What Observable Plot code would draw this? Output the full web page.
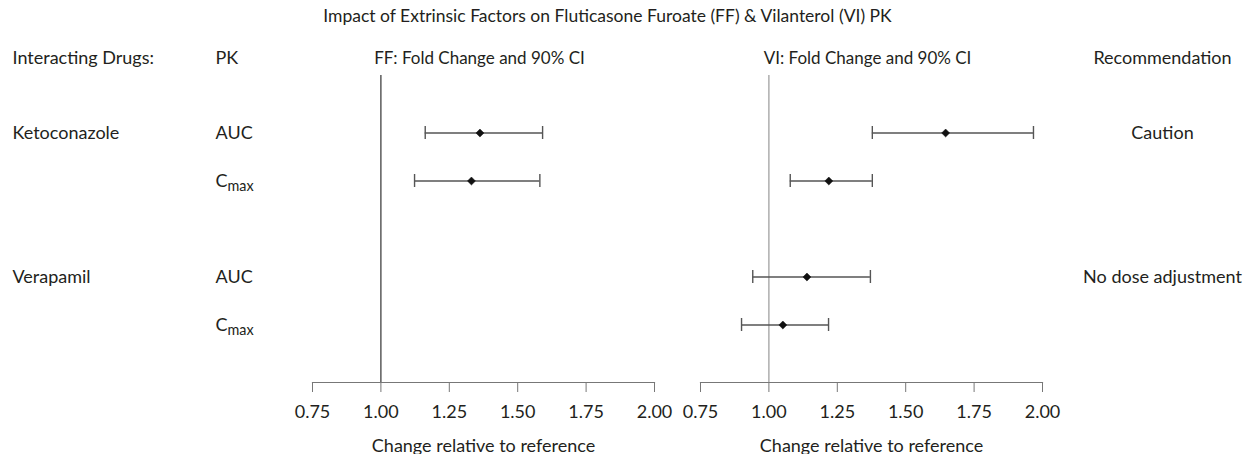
<!DOCTYPE html>
<html>
<head>
<meta charset="utf-8">
<script src="https://cdn.jsdelivr.net/npm/d3@7"></script>
<script src="https://cdn.jsdelivr.net/npm/@observablehq/plot@0.6"></script>
<style>
  html, body { margin: 0; padding: 0; background: #fff; }
  body { width: 1251px; height: 454px; overflow: hidden; font-family: Lato, "Noto Sans", sans-serif; color: #231f20; }
  #title { height: 30px; line-height: 32px; font-size: 17.5px; text-align: center; padding-right: 36px; box-sizing: border-box; width: 1251px; }
  #stage { position: relative; width: 1251px; height: 424px; }
  #stage > svg { position: absolute; top: 0; }
</style>
</head>
<body>
<div id="title">Impact of Extrinsic Factors on Fluticasone Furoate (FF) &amp; Vilanterol (VI) PK</div>
<div id="stage"></div>
<script>
// ---- data ----
const drugs = ["Ketoconazole", "Ketoconazole", "Verapamil", "Verapamil"];
const pkParams = ["AUC", "Cmax", "AUC", "Cmax"];
const rowOrder = ["Ketoconazole|AUC", "Ketoconazole|Cmax", "gap", "Verapamil|AUC", "Verapamil|Cmax"];
const panels = ["FF: Fold Change and 90% CI", "VI: Fold Change and 90% CI"];
const ffEst = [1.362, 1.331, null, null];
const ffLo  = [1.162, 1.123, null, null];
const ffHi  = [1.591, 1.581, null, null];
const viEst = [1.646, 1.219, 1.139, 1.051];
const viLo  = [1.378, 1.078, 0.941, 0.900];
const viHi  = [1.967, 1.378, 1.371, 1.218];
const recDrugs = ["Ketoconazole", "Verapamil"];
const recommendations = ["Caution", "No dose adjustment"];
const xTicks = [0.75, 1.00, 1.25, 1.50, 1.75, 2.00];
const leftHeaders = ["Interacting Drugs:", "PK"];
const rightHeaders = ["Recommendation"];
const xLabel = "Change relative to reference";

// ---- tables ----
const table = [];
drugs.forEach((d, i) => {
  const row = d + "|" + pkParams[i];
  if (ffEst[i] != null) table.push({panel: panels[0], row, est: ffEst[i], lo: ffLo[i], hi: ffHi[i]});
  if (viEst[i] != null) table.push({panel: panels[1], row, est: viEst[i], lo: viLo[i], hi: viHi[i]});
});
const labelRows = drugs.map((d, i) => ({drug: d, pk: pkParams[i], row: d + "|" + pkParams[i], first: pkParams[i] === "AUC"}));
const recRows = recDrugs.map((d, i) => ({row: d + "|AUC", text: recommendations[i]}));

const FONT = "Lato, 'Noto Sans', sans-serif";
const INK = "#231f20";
const FS = 18;
const H = 424, MT = 45, MB = 72;
const yScale = {type: "band", domain: rowOrder, paddingInner: 0.73, paddingOuter: 1.06, axis: null};
const baseStyle = {fontFamily: FONT, fontSize: FS + "px", color: INK, background: "transparent", overflow: "visible"};

const main = Plot.plot({
  width: 1251, height: H, marginLeft: 312, marginRight: 208, marginTop: MT, marginBottom: MB,
  style: baseStyle,
  fx: {domain: panels, paddingInner: 0.118, paddingOuter: 0, label: null},
  x: {domain: [0.75, 2]},
  y: yScale,
  marks: [
    Plot.axisFx({anchor: "top", tickSize: 0, tickPadding: 12, label: null, fontSize: 17, dx: -4}),
    Plot.axisX({anchor: "bottom", ticks: xTicks, tickFormat: d3.format(".2f"), tickSize: 10, tickPadding: 13,
                stroke: "#777", fill: INK, fontSize: FS, label: null}),
    Plot.text(panels, {fx: d => d, text: () => xLabel, frameAnchor: "bottom", dy: 69, fontSize: FS, fill: INK}),
    Plot.frame({anchor: "bottom", stroke: "#777", strokeWidth: 1.2}),
    Plot.ruleX([panels[0]], {x: () => 1, fx: d => d, stroke: "#333", strokeWidth: 1.2}),
    Plot.ruleX([panels[1]], {x: () => 1, fx: d => d, stroke: "#999", strokeWidth: 1.2}),
    Plot.ruleY(table, {fx: "panel", y: "row", x1: "lo", x2: "hi", stroke: "#555", strokeWidth: 1.4}),
    Plot.tickX(table, {fx: "panel", y: "row", x: "lo", stroke: "#555", strokeWidth: 1.4}),
    Plot.tickX(table, {fx: "panel", y: "row", x: "hi", stroke: "#555", strokeWidth: 1.4}),
    Plot.dot(table, {fx: "panel", y: "row", x: "est", symbol: "diamond2", r: 3.6, fill: "#111", stroke: "#111", strokeWidth: 0.5})
  ]
});

const left = Plot.plot({
  width: 312, height: H, marginLeft: 12, marginRight: 97, marginTop: MT, marginBottom: MB,
  style: baseStyle,
  x: {type: "point", domain: leftHeaders, padding: 0},
  y: yScale,
  marks: [
    Plot.axisX({anchor: "top", tickSize: 0, tickPadding: 12, textAnchor: "start", fontSize: FS, label: null}),
    Plot.text(labelRows.filter(d => d.first), {x: () => leftHeaders[0], y: "row", text: "drug", textAnchor: "start", fontSize: FS, fill: INK}),
    Plot.text(labelRows, {x: () => leftHeaders[1], y: "row", text: "pk", textAnchor: "start", fontSize: FS, fill: INK})
  ]
});
left.style.left = "0px";

const right = Plot.plot({
  width: 208, height: H, marginLeft: 30, marginRight: 0, marginTop: MT, marginBottom: MB,
  style: baseStyle,
  x: {type: "point", domain: rightHeaders, padding: 0.5},
  y: yScale,
  marks: [
    Plot.axisX({anchor: "top", tickSize: 0, tickPadding: 12, fontSize: FS, label: null}),
    Plot.text(recRows, {x: () => rightHeaders[0], y: "row", text: "text", fontSize: FS, fill: INK})
  ]
});
right.style.left = "1043px";

const stage = document.getElementById("stage");
stage.append(main, left, right);

// subscript for Cmax
stage.querySelectorAll("text").forEach(t => {
  if (t.textContent === "Cmax") {
    t.textContent = "C";
    const ts = document.createElementNS("http://www.w3.org/2000/svg", "tspan");
    ts.setAttribute("dy", "0.3em");
    ts.setAttribute("font-size", "0.8em");
    ts.textContent = "max";
    t.appendChild(ts);
  }
});
</script>
</body>
</html>
